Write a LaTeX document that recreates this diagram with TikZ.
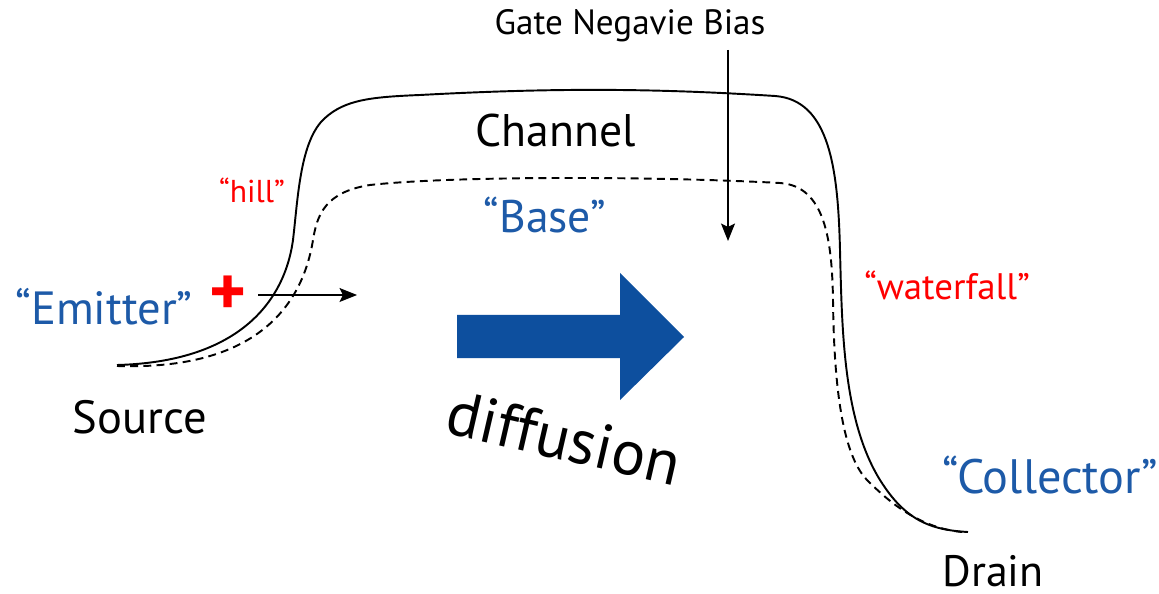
\documentclass[tikz,border=0pt]{standalone}
\usepackage{fontspec}
\setmainfont{PT Sans}
\usetikzlibrary{arrows.meta}
\definecolor{lblblue}{HTML}{1D5AA8}
\definecolor{lblred}{HTML}{FF0000}
\definecolor{arrblue}{HTML}{0D4F9E}
\tikzset{
  blk/.style={text=black,inner sep=0pt,anchor=base},
  bluelbl/.style={text=lblblue,inner sep=0pt,anchor=base},
  redlbl/.style={text=lblred,inner sep=0pt,anchor=base},
  thinarrow/.style={line width=0.75pt,-{Stealth[length=10pt,width=8pt,inset=2pt]}},
  curve/.style={line width=1.1pt},
}
\begin{document}
\begin{tikzpicture}[x=0.02cm,y=-0.02cm]
\useasboundingbox[fill=white] (0,0) rectangle (1159,594);
% solid curve (Channel)
\draw[curve] (117,365) .. controls (235,362) and (284,305) .. (293,240)
  .. controls (298,198) and (300,140) .. (325,118)
  .. controls (345,100) and (370,97) .. (420,95)
  .. controls (550,88) and (650,88) .. (775,96)
  .. controls (830,100) and (838,170) .. (840,250)
  .. controls (842,330) and (843,420) .. (880,480)
  .. controls (905,520) and (930,530) .. (968,532);
% dashed curve (Base)
\draw[curve,dash pattern=on 4.5pt off 3pt] (117,366) .. controls (240,370) and (300,320) .. (313,240)
  .. controls (317,215) and (325,192) .. (370,185)
  .. controls (450,176) and (650,176) .. (780,183)
  .. controls (825,186) and (832,240) .. (833,300)
  .. controls (834,390) and (843,455) .. (867,480)
  .. controls (890,503) and (920,528) .. (962,532);
% texts
\node[blk,font=\fontsize{20}{24}\selectfont] (gate) at (630,35) {Gate Negavie Bias};
\node[blk,font=\fontsize{26}{30}\selectfont] (channel) at (556,147) {Channel};
\node[redlbl,font=\fontsize{18}{21}\selectfont] (hill) at (252,203) {“hill”};
\node[bluelbl,font=\fontsize{26}{30}\selectfont] (base) at (545,233) {“Base”};
\node[bluelbl,font=\fontsize{26.5}{30}\selectfont] (emitter) at (104,325) {“Emitter”};
\node[text=lblred,inner sep=0pt,font=\fontsize{40}{40}\selectfont\bfseries] (plus) at (228,296) {+};
\node[blk,font=\fontsize{26.5}{30}\selectfont] (source) at (140,433) {Source};
\node[redlbl,font=\fontsize{21}{24}\selectfont] (waterfall) at (947,300) {“waterfall”};
\node[bluelbl,font=\fontsize{27.5}{32}\selectfont] (collector) at (1050,493) {“Collector”};
\node[blk,font=\fontsize{25}{30}\selectfont] (drain) at (993,586) {Drain};
\node[text=black,inner sep=0pt,rotate=-13,font=\fontsize{36}{40}\selectfont] (diff) at (564,438) {diffusion};
% arrows
\coordinate (gtop) at (728,50);
\coordinate (gbot) at (728,241);
\draw[thinarrow] (gtop) -- (gbot);
\coordinate (eL) at (258,295);
\coordinate (eR) at (357,295);
\draw[thinarrow] (eL) -- (eR);
% big blue arrow
\fill[arrblue] (457,315) -- (620,315) -- (620,273) -- (684,337) -- (620,400) -- (620,358) -- (457,358) -- cycle;
\end{tikzpicture}
\end{document}
